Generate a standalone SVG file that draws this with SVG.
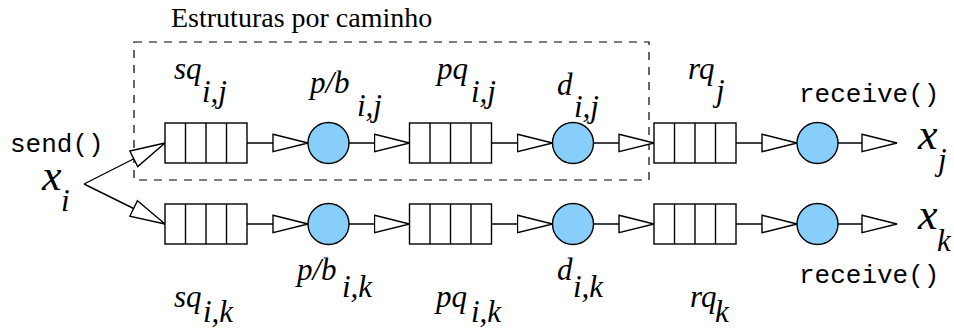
<svg xmlns="http://www.w3.org/2000/svg" width="954" height="330" viewBox="0 0 954 330">
<style>
.q rect{fill:#fff;stroke:#000;stroke-width:1.4}
.q line{stroke:#000;stroke-width:1.4}
.c{fill:#87cefa;stroke:#000;stroke-width:1.4}
.con line{stroke:#000;stroke-width:1.4;fill:none;marker-end:url(#ah)}
.lb{font-family:"Liberation Serif","Times New Roman",serif;font-style:italic;font-size:31px;fill:#000}
.xl{font-family:"Liberation Serif","Times New Roman",serif;font-style:italic;font-size:44px;fill:#000}
.mono{font-family:"Liberation Mono","Courier New",monospace;font-size:26px;fill:#000}
.title{font-family:"Liberation Serif","Times New Roman",serif;font-size:28px;fill:#000}
</style>
<defs>
<marker id="ah" viewBox="-1 -10 37 20" refX="35" refY="0" markerWidth="37" markerHeight="20" markerUnits="userSpaceOnUse" orient="auto">
<path d="M0,-8.7 L35,0 L0,8.7 Z" fill="#fff" stroke="#000" stroke-width="1.4"/>
</marker>
<g id="qshape" class="q">
<rect x="0" y="0" width="82" height="40"/>
<line x1="20.5" y1="0" x2="20.5" y2="40"/>
<line x1="41" y1="0" x2="41" y2="40"/>
<line x1="61.5" y1="0" x2="61.5" y2="40"/>
</g>
</defs>

<g id="path-box">
<rect x="134" y="42" width="515" height="138" fill="none" stroke="#000" stroke-width="1.2" stroke-dasharray="8,7"/>
<text class="title" x="171" y="27">Estruturas por caminho</text>
</g>

<g id="connectors" class="con">
<line x1="84" y1="184" x2="165" y2="143"/>
<line x1="84" y1="184" x2="165" y2="224"/>
<line x1="247" y1="143" x2="308" y2="143"/>
<line x1="349" y1="143" x2="409.5" y2="143"/>
<line x1="491.5" y1="143" x2="552.5" y2="143"/>
<line x1="593.5" y1="143" x2="654" y2="143"/>
<line x1="736" y1="143" x2="797" y2="143"/>
<line x1="838" y1="143" x2="897" y2="143"/>
<line x1="247" y1="224" x2="308" y2="224"/>
<line x1="349" y1="224" x2="409.5" y2="224"/>
<line x1="491.5" y1="224" x2="552.5" y2="224"/>
<line x1="593.5" y1="224" x2="654" y2="224"/>
<line x1="736" y1="224" x2="797" y2="224"/>
<line x1="838" y1="224" x2="897" y2="224"/>
</g>

<g id="xi">
<text class="mono" x="10" y="152">send()</text>
<text class="xl" x="42" y="190">x</text>
<text class="lb" x="61" y="211">i</text>
</g>

<g id="sq_ij"><use href="#qshape" x="165" y="123"/>
<text class="lb" x="174" y="79">sq</text><text class="lb" x="202" y="102">i,j</text></g>
<g id="pb_ij"><circle class="c" cx="328.5" cy="143" r="20.5"/>
<text class="lb" x="310" y="93">p/b</text><text class="lb" x="357" y="116">i,j</text></g>
<g id="pq_ij"><use href="#qshape" x="409.5" y="123"/>
<text class="lb" x="437" y="79">pq</text><text class="lb" x="471" y="102">i,j</text></g>
<g id="d_ij"><circle class="c" cx="573" cy="143" r="20.5"/>
<text class="lb" x="557" y="95">d</text><text class="lb" x="574" y="117">i,j</text></g>
<g id="rq_j"><use href="#qshape" x="654" y="123"/>
<text class="lb" x="688" y="79">rq</text><text class="lb" x="716" y="101">j</text></g>
<g id="r_j"><circle class="c" cx="817.5" cy="143" r="20.5"/>
<text class="mono" x="799" y="102">receive()</text></g>
<g id="xj">
<text class="xl" x="918" y="149">x</text>
<text class="lb" x="938" y="170">j</text></g>

<g id="sq_ik"><use href="#qshape" x="165" y="204"/>
<text class="lb" x="174" y="307">sq</text><text class="lb" x="203" y="322">i,k</text></g>
<g id="pb_ik"><circle class="c" cx="328.5" cy="224" r="20.5"/>
<text class="lb" x="297" y="280">p/b</text><text class="lb" x="342" y="297">i,k</text></g>
<g id="pq_ik"><use href="#qshape" x="409.5" y="204"/>
<text class="lb" x="436" y="307">pq</text><text class="lb" x="471" y="322">i,k</text></g>
<g id="d_ik"><circle class="c" cx="573" cy="224" r="20.5"/>
<text class="lb" x="557" y="280">d</text><text class="lb" x="573" y="297">i,k</text></g>
<g id="rq_k"><use href="#qshape" x="654" y="204"/>
<text class="lb" x="690" y="307">rq</text><text class="lb" x="715" y="322">k</text></g>
<g id="r_k"><circle class="c" cx="817.5" cy="224" r="20.5"/>
<text class="mono" x="799" y="283">receive()</text></g>
<g id="xk">
<text class="xl" x="918" y="229">x</text>
<text class="lb" x="937" y="251">k</text></g>
</svg>
